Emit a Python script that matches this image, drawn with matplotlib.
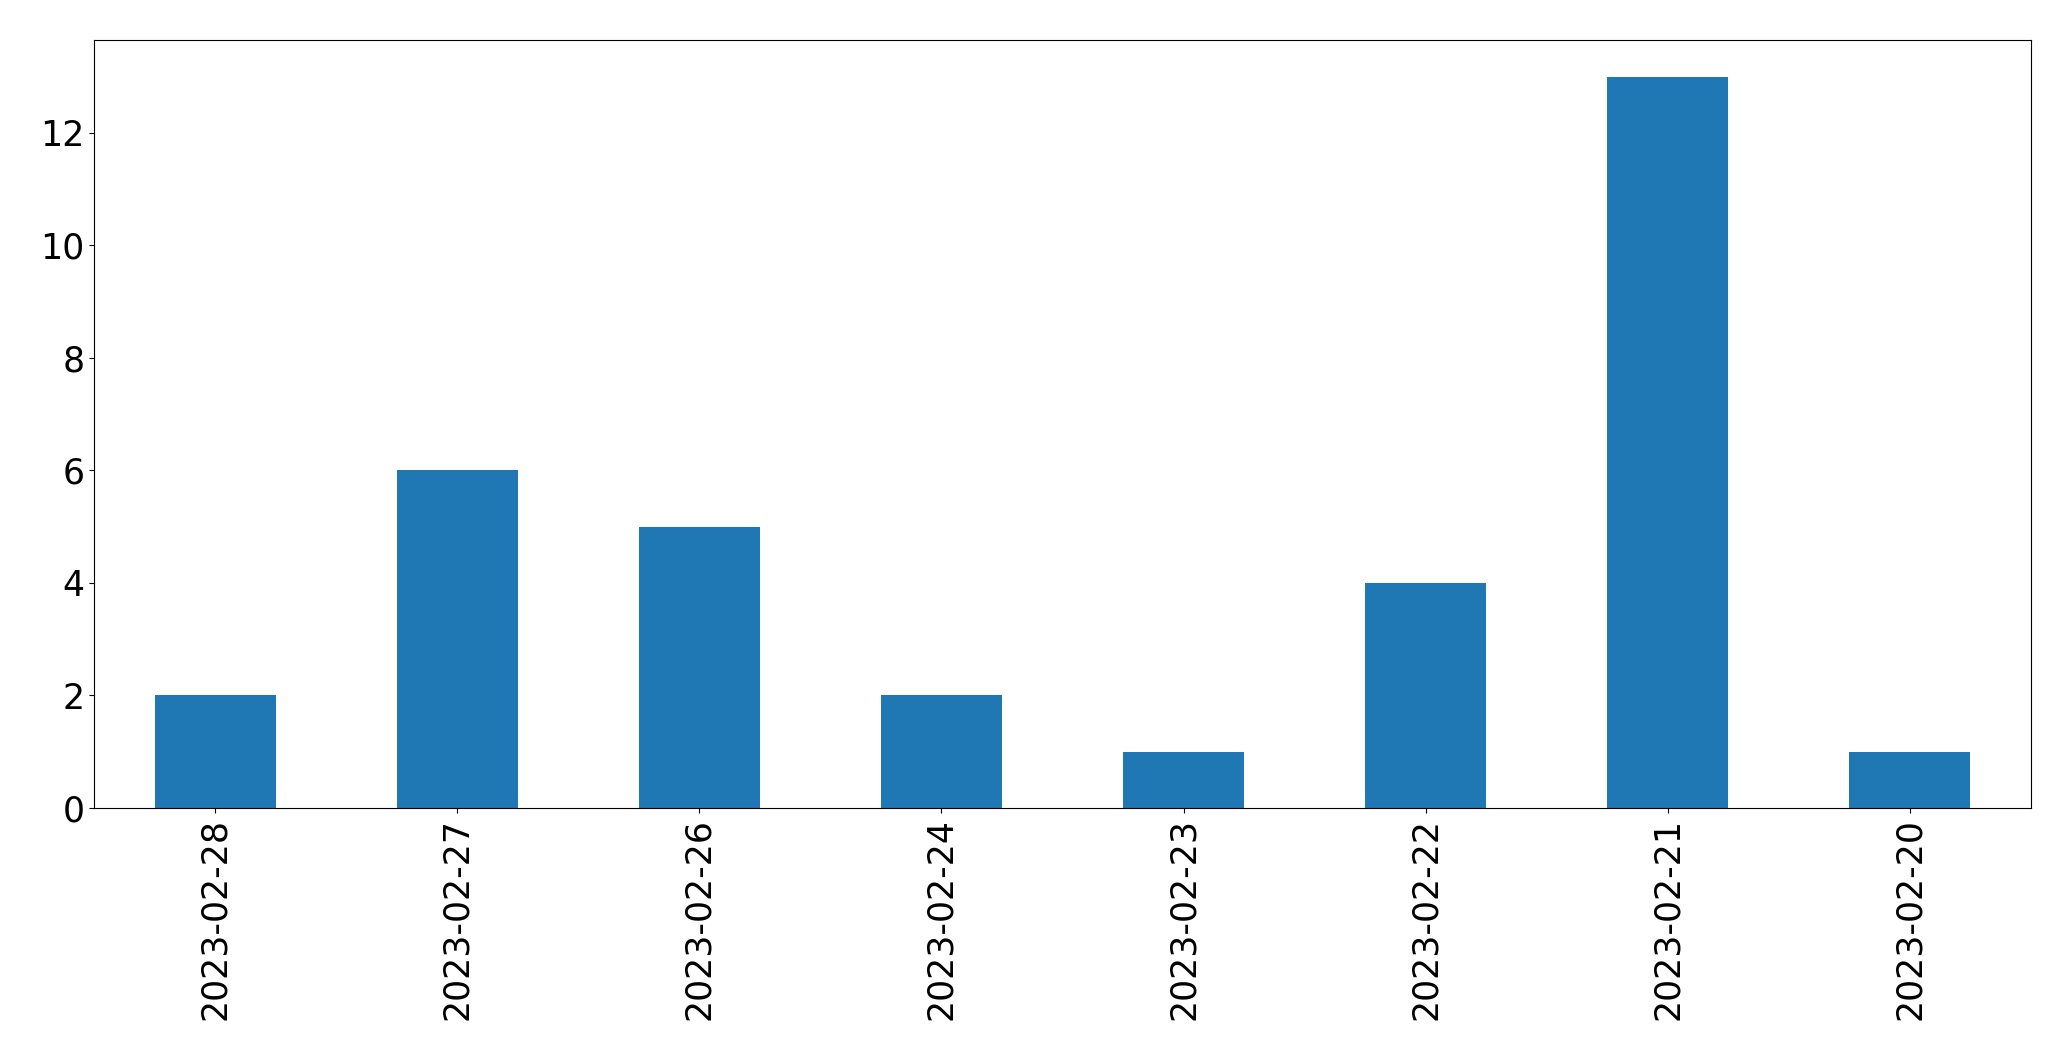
import matplotlib
matplotlib.use('Agg')
import matplotlib.pyplot as plt
import pandas as pd

dates = ['2023-02-28', '2023-02-27', '2023-02-26', '2023-02-24',
         '2023-02-23', '2023-02-22', '2023-02-21', '2023-02-20']
counts = [2, 6, 5, 2, 1, 4, 13, 1]

s = pd.Series(counts, index=dates)

fig, ax = plt.subplots(figsize=(20.71, 10.61), dpi=100)
fig.subplots_adjust(left=94 / 2071, right=2031 / 2071, top=1 - 40 / 1061, bottom=1 - 808 / 1061)
s.plot(kind='bar', ax=ax, color='#1f77b4')
ax.tick_params(axis='both', labelsize=25)
fig.savefig('out.png', dpi=100)
